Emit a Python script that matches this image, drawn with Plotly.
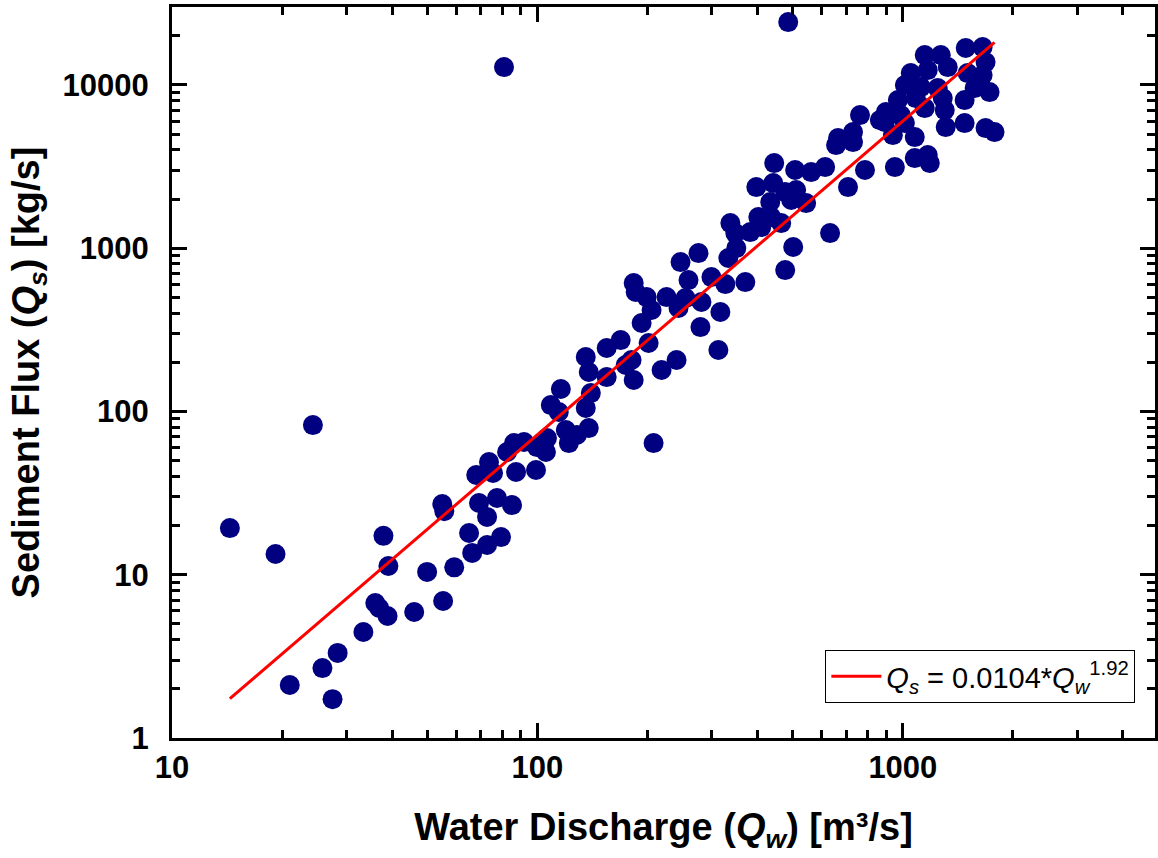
import plotly.graph_objects as go

# water discharge Qw [m3/s] and sediment flux Qs [kg/s]
q_w = [
    14.4, 19.2, 24.3, 81.0, 485.6, 21.0, 25.8, 27.5, 28.4, 33.4,
    36.0, 36.9, 38.9, 37.9, 39.1, 46.0, 49.9, 55.2, 54.9, 55.6,
    59.2, 65.0, 66.3, 72.8, 79.5, 69.2, 72.8, 77.5, 85.2, 68.0,
    73.7, 75.6, 82.6, 86.3, 91.9, 87.4, 99.1, 99.7, 106.2, 105.5,
    119.6, 121.9, 128.2, 138.2, 108.8, 115.9, 114.4, 135.6, 140.0, 135.6,
    138.2, 154.7, 154.7, 169.0, 181.0, 174.4, 183.4, 201.5, 192.8, 183.4,
    185.7, 199.0, 205.3, 225.6, 243.3, 254.2, 246.4, 275.9, 259.1, 281.1,
    299.3, 279.3, 312.7, 218.6, 240.3, 207.9, 316.7, 326.8, 370.6, 333.0,
    350.2, 337.3, 347.9, 382.3, 409.8, 402.2, 436.3, 464.6, 397.2, 441.9,
    476.4, 510.5, 494.8, 433.6, 543.6, 444.6, 507.3, 561.0, 612.7, 787.7,
    707.8, 501.1, 476.4, 632.1, 763.4, 730.5, 664.7, 656.5, 730.5, 865.2,
    1486, 1653, 1684, 1148, 1270, 1051, 1170, 1327, 1504, 1653,
    1013, 1120, 1246, 1572, 1727, 969.0, 1085, 1286, 1476, 898.6,
    987.4, 1148, 1302, 893.0, 1013, 1310, 1476, 1684, 1782, 939.1,
    1078, 1078, 1170, 1185, 951.0,
]
q_s = [
    19.3, 13.4, 82.5, 12850, 24240, 2.11, 2.68, 1.73, 3.32, 4.46,
    6.71, 6.25, 5.59, 17.3, 11.3, 5.91, 10.4, 6.90, 27.1, 24.5,
    11.1, 18.0, 13.6, 15.2, 17.0, 27.5, 22.6, 29.5, 26.7, 40.8,
    49.0, 42.0, 56.4, 64.0, 65.0, 42.6, 43.8, 60.5, 68.7, 56.4,
    76.9, 64.0, 71.7, 79.1, 109.4, 137.2, 99.2, 104.9, 129.6, 215.4,
    174.3, 162.4, 244.5, 273.6, 206.5, 192.4, 155.7, 262.4, 347.8, 611.3,
    538.5, 501.8, 417.8, 501.8, 429.8, 494.8, 821.9, 933.3, 637.7, 467.8,
    665.3, 328.7, 237.7, 179.3, 206.5, 64.0, 406.2, 602.8, 620.0, 869.8,
    1001, 1424, 1237, 1255, 1346, 1550, 1550, 1424, 2366, 2504,
    2205, 2269, 1971, 1916, 1889, 3320, 3009, 2924, 3138, 3009,
    2366, 1016, 734.1, 1237, 6534, 5140, 4723, 4280, 4464, 6087,
    16810, 17040, 13790, 15220, 15220, 11810, 12320, 12850, 11810, 11480,
    9970, 9695, 9560, 9560, 9035, 8070, 8304, 8304, 8070, 6815,
    6534, 7211, 7010, 5918, 5836, 5515, 5836, 5438, 5140, 4927,
    4789, 3562, 3716, 3320, 3138,
]

# power-law fit, end points as drawn
fit_q_w = [14.4, 1782]
fit_q_s = [1.74, 18200]
fit_name = "<i>Q</i><sub><i>s</i></sub> = 0.0104*<i>Q</i><sub><i>w</i></sub><sup>1.92</sup>"

x_ticks = [10, 100, 1000]
y_ticks = [1, 10, 100, 1000, 10000]
x_minor = [m * 10 ** e for e in (1, 2, 3) for m in range(2, 10) if m * 10 ** e < 5000]
y_minor = [m * 10 ** e for e in (0, 1, 2, 3, 4) for m in range(2, 10) if m * 10 ** e < 30000]

font = "Liberation Sans, Arial, sans-serif"

fig = go.Figure()
fig.add_trace(go.Scatter(
    x=q_w, y=q_s, mode="markers", showlegend=False,
    marker=dict(color="#000080", size=20, line=dict(width=0)),
))
fig.add_trace(go.Scatter(
    x=fit_q_w, y=fit_q_s, mode="lines", name=fit_name,
    line=dict(color="#ff0000", width=3),
))

axis_common = dict(
    type="log", showgrid=False, zeroline=False,
    showline=True, linecolor="black", linewidth=3, mirror="ticks",
    ticks="inside", ticklen=15, tickwidth=2.5, tickcolor="black",
    tickfont=dict(family=font, size=31, color="black", weight="bold"),
)

fig.update_xaxes(
    **axis_common,
    range=[1, 3.69],
    tickvals=x_ticks, ticktext=[str(v) for v in x_ticks],
    minor=dict(tickvals=x_minor, ticks="inside", ticklen=8, tickwidth=2.5, tickcolor="black"),
    ticklabelstandoff=0,
    title=dict(text="Water Discharge (<i>Q</i><sub><i>w</i></sub>) [m³/s]",
               font=dict(family=font, size=38, color="black", weight="bold"), standoff=30),
)
fig.update_yaxes(
    **axis_common,
    range=[0, 4.477],
    tickvals=y_ticks, ticktext=[str(v) for v in y_ticks],
    minor=dict(tickvals=y_minor, ticks="inside", ticklen=8, tickwidth=2.5, tickcolor="black"),
    ticklabelstandoff=14,
    title=dict(text="Sediment Flux (<i>Q</i><sub><i>s</i></sub>) [kg/s]",
               font=dict(family=font, size=38, color="black", weight="bold"), standoff=12),
)

fig.update_layout(
    width=1158, height=858,
    margin=dict(l=172, r=0, t=7, b=120),
    paper_bgcolor="white", plot_bgcolor="white",
    legend=dict(
        x=0.98, y=0.048, xanchor="right", yanchor="bottom",
        bgcolor="white", bordercolor="black", borderwidth=1,
        itemwidth=50,
        font=dict(family=font, size=29, color="black"),
    ),
)

fig.write_html("out.html", config={"displayModeBar": False},
               post_script="document.body.style.margin='0';")
